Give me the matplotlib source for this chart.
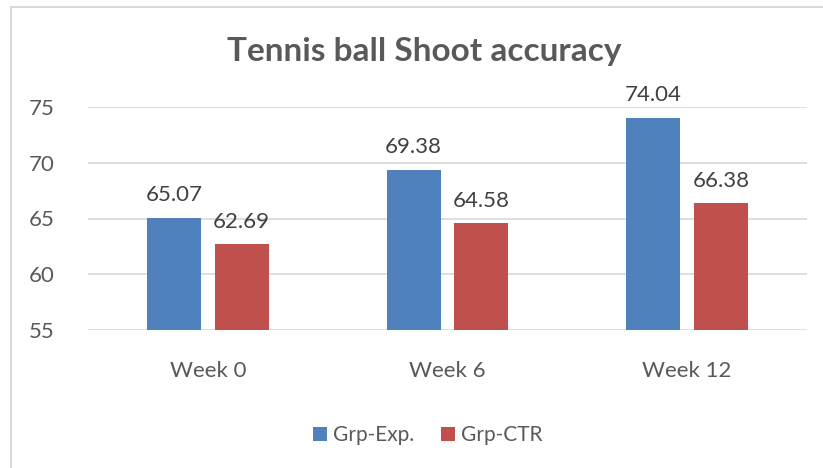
import matplotlib
matplotlib.use("Agg")
import matplotlib.pyplot as plt
import numpy as np
from matplotlib.patches import Rectangle

categories = ["Week 0", "Week 6", "Week 12"]
series_names = ["Grp-Exp.", "Grp-CTR"]
exp_values = [65.07, 69.38, 74.04]
ctr_values = [62.69, 64.58, 66.38]
yticks = [55, 60, 65, 70, 75]

FONT = "Lato"
W, H = 823, 468
fig = plt.figure(figsize=(W/100, H/100), dpi=100)
fig.patch.set_facecolor("white")

# chart border
fig.patches.append(Rectangle((11/W, -0.05), 1.0, 1 - 7/H + 0.05, transform=fig.transFigure,
                             fill=False, edgecolor="#d9d9d9", linewidth=1.5))

ax = fig.add_axes([88/W, 1 - 330/H, (807-88)/W, (330-107)/H])
x = np.arange(len(categories))
bw = 0.225
gap = 0.058
colors = ["#4f81bd", "#c0504d"]
for i, (vals, c, name) in enumerate(zip([exp_values, ctr_values], colors, series_names)):
    off = (-1 if i == 0 else 1) * (bw + gap) / 2
    ax.bar(x + off, np.array(vals) - 55, bw, bottom=55, color=c, label=name, zorder=3)
    for xi, v in zip(x + off, vals):
        ax.text(xi, v + 1.1, f"{v:.2f}", ha="center", va="bottom", fontsize=16,
                color="#404040", family=FONT)

ax.set_xlim(-0.5, 2.5)
ax.set_ylim(55, 75)
ax.set_yticks(yticks)
ax.yaxis.grid(True, color="#d9d9d9", linewidth=1.2, zorder=0)
ax.set_axisbelow(True)
for s in ax.spines.values():
    s.set_visible(False)
ax.tick_params(axis="both", length=0, labelsize=16, labelcolor="#595959")
ax.tick_params(axis="y", pad=24)
ax.tick_params(axis="x", pad=22)
ax.set_xticks(x)
ax.set_xticklabels(categories)
for lbl in ax.get_xticklabels() + ax.get_yticklabels():
    lbl.set_family(FONT)

fig.text(424/W, 1 - 52/H, "Tennis ball Shoot accuracy", ha="center", va="center",
         fontsize=24, fontweight="bold", color="#595959", family=FONT)

handles, labels = ax.get_legend_handles_labels()
fig.legend(handles, labels, loc="center", bbox_to_anchor=(428/W, 1 - 435/H), ncol=2,
           frameon=False, handlelength=0.65, handleheight=0.65,
           handletextpad=0.3, columnspacing=1.3,
           prop={"family": FONT, "size": 15})
for t in fig.legends[0].get_texts():
    t.set_color("#595959")

fig.savefig("out.png", dpi=100)
